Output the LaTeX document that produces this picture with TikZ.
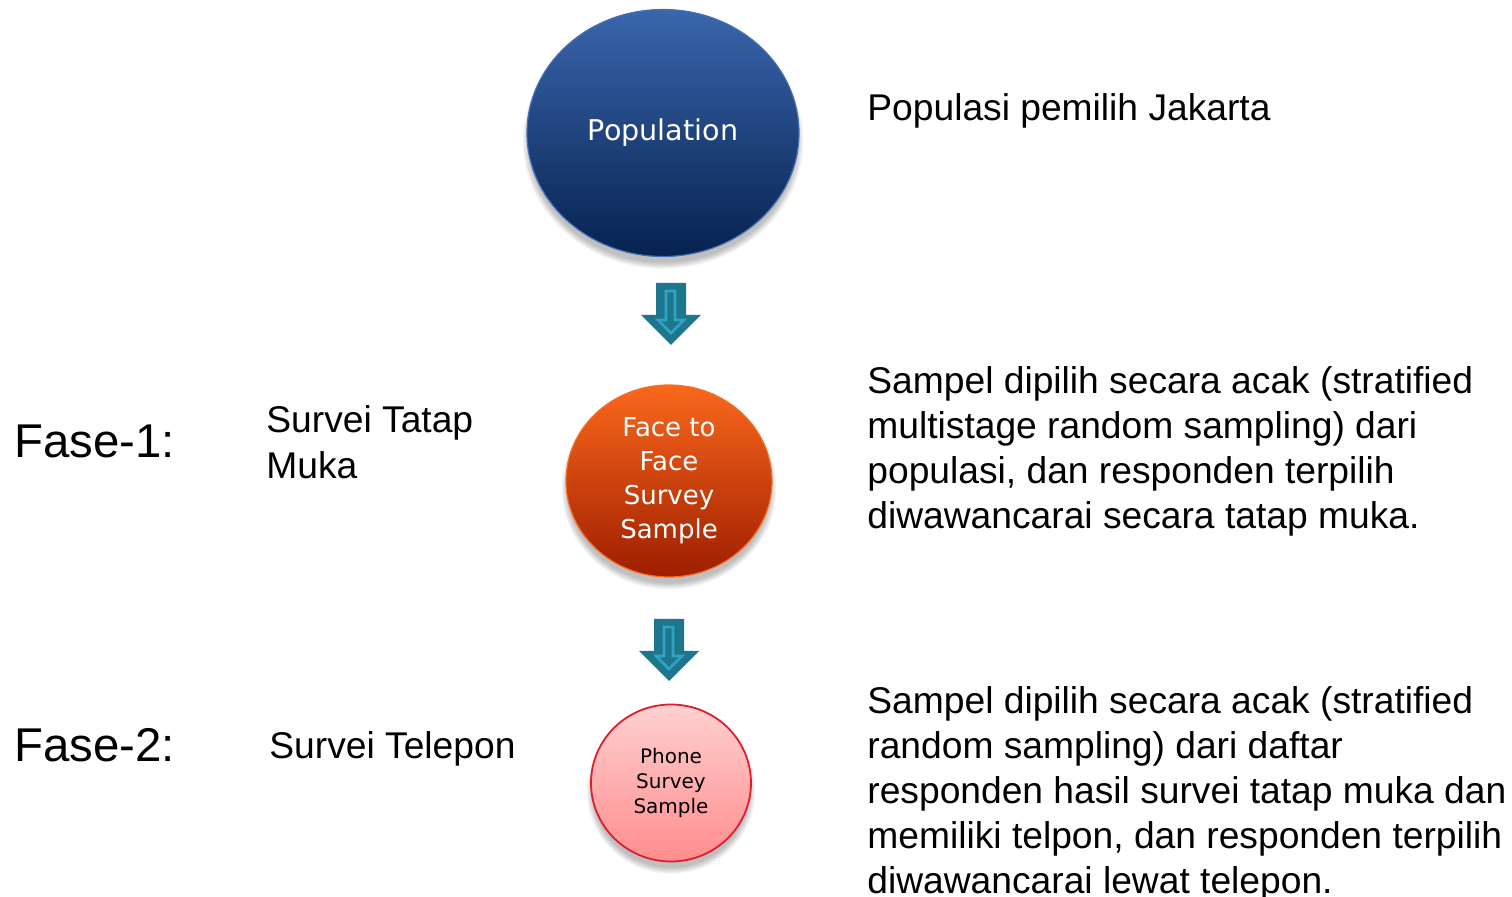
\documentclass[tikz,border=0pt]{standalone}
\usepackage{fontspec}
\setmainfont{Liberation Sans}
\newfontfamily\circfont{DejaVu Sans}
\usetikzlibrary{shapes.geometric,backgrounds}
\definecolor{popTop}{RGB}{58,102,172}
\definecolor{popBot}{RGB}{6,34,80}
\definecolor{popBorder}{RGB}{70,110,180}
\definecolor{faceTop}{RGB}{250,104,28}
\definecolor{faceBot}{RGB}{158,30,0}
\definecolor{faceBorder}{RGB}{245,110,40}
\definecolor{phTop}{RGB}{255,208,208}
\definecolor{phBot}{RGB}{255,140,142}
\definecolor{phBorder}{RGB}{222,30,45}
\definecolor{arrFill}{RGB}{28,118,140}
\definecolor{arrLine}{RGB}{48,162,194}
\tikzset{
  circ/.style={ellipse, inner sep=0pt, align=center, text=white},
  bodytext/.style={anchor=base west, inner sep=0pt, font=\fontsize{18.6}{22.5}\selectfont},
  fasetext/.style={anchor=base west, inner sep=0pt, font=\fontsize{23.7}{27}\selectfont},
}
% soft shadow: #1 node, #2 x-radius, #3 y-radius (pixel units)
\newcommand\softshadow[3]{%
  \begin{scope}[on background layer]
    \foreach \k in {0,...,7}{
      \fill[black, opacity=0.035] ([yshift=-4pt]#1.center) ellipse ({#2+\k*0.9-2} and {#3+\k*0.9-2});
    }
  \end{scope}}
\newcommand\blockarrow[1]{%
  \begin{scope}[shift={(#1)}]
    \fill[arrFill] (-15,0) -- (15,0) -- (15,32) -- (30,32) -- (0,62) -- (-30,32) -- (-15,32) -- cycle;
    \draw[arrLine, line width=1.3pt, line join=miter] (-5,8) -- (4,8) -- (4,37) -- (13,37) -- (0,50) -- (-13,37) -- (-5,37) -- cycle;
  \end{scope}}
\begin{document}
\begin{tikzpicture}[x=0.5pt,y=-0.5pt]
\useasboundingbox (0,0) rectangle (1512,897);
% circles
\node[circ, minimum width=136pt, minimum height=123.5pt, top color=popTop, bottom color=popBot, draw=popBorder, line width=0.6pt,
  font=\circfont\fontsize{14.3}{17}\selectfont] (pop) at (663,133) {\raisebox{-1pt}{Population}};
\node[circ, minimum width=103pt, minimum height=96pt, top color=faceTop, bottom color=faceBot, draw=faceBorder, line width=0.6pt,
  font=\circfont\fontsize{13}{17}\selectfont] (face) at (669,481) {Face to\\Face\\Survey\\Sample};
\node[circ, minimum width=80pt, minimum height=78.5pt, top color=phTop, bottom color=phBot, draw=phBorder, line width=0.9pt, text=black,
  font=\circfont\fontsize{10}{12.7}\selectfont] (phone) at (671,783) {Phone\\Survey\\Sample};
\softshadow{pop}{136}{123.5}
\softshadow{face}{103}{96}
\softshadow{phone}{80}{78.5}
% arrows
\coordinate (a1) at (671,283);
\coordinate (a2) at (669,619);
\blockarrow{a1}
\blockarrow{a2}
% left labels
\node[fasetext] (f1) at (14,458) {Fase-1:};
\node[fasetext] (f2) at (14,762) {Fase-2:};
\node[bodytext] (s1a) at (266,433) {Survei Tatap};
\node[bodytext] (s1b) at (266,479) {Muka};
\node[bodytext] (s2) at (269,759) {Survei Telepon};
% right texts
\node[bodytext] (r1) at (867,121) {Populasi pemilih Jakarta};
\node[bodytext] (r2a) at (867,394) {Sampel dipilih secara acak (stratified};
\node[bodytext] (r2b) at (867,439) {multistage random sampling) dari};
\node[bodytext] (r2c) at (867,484) {populasi, dan responden terpilih};
\node[bodytext] (r2d) at (867,529) {diwawancarai secara tatap muka.};
\node[bodytext] (r3a) at (867,714) {Sampel dipilih secara acak (stratified};
\node[bodytext] (r3b) at (867,759) {random sampling) dari daftar};
\node[bodytext] (r3c) at (867,804) {responden hasil survei tatap muka dan};
\node[bodytext] (r3d) at (867,849) {memiliki telpon, dan responden terpilih};
\node[bodytext] (r3e) at (867,894) {diwawancarai lewat telepon.};
\end{tikzpicture}
\end{document}
